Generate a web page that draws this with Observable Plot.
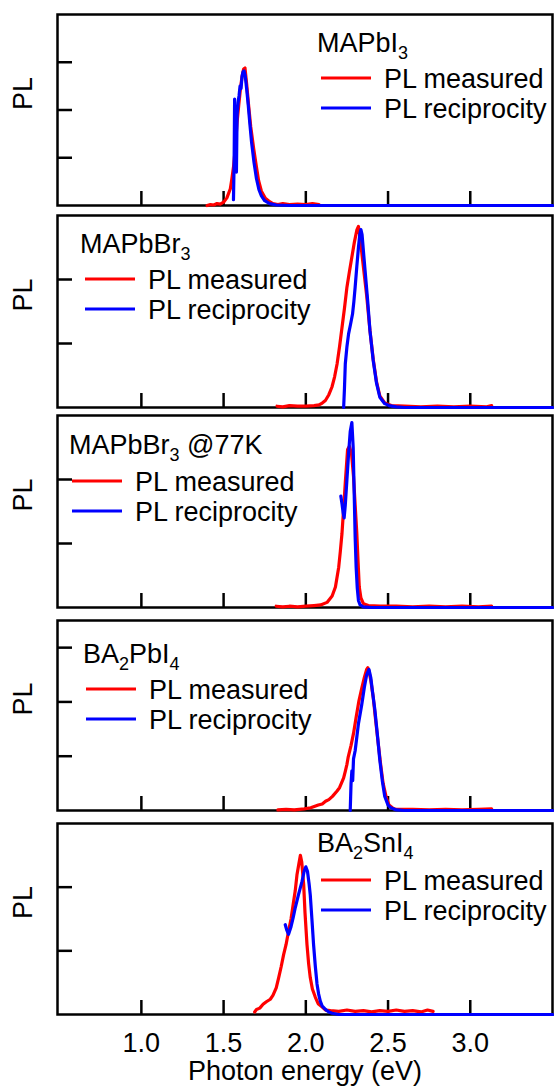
<!DOCTYPE html>
<html><head><meta charset="utf-8">
<script src="https://cdn.jsdelivr.net/npm/d3@7"></script>
<script src="https://cdn.jsdelivr.net/npm/@observablehq/plot@0.6"></script>
<style>
body{margin:0;background:#fff;}
#chart{width:554px;}
#chart svg{display:block;}
</style></head><body><div id="chart"></div>
<script>
// ---------------- DATA ----------------
const xTicks = [1.0, 1.5, 2.0, 2.5, 3.0];
const xDomain = [0.49, 3.5];
const xTitle = "Photon energy (eV)";
const yTitle = "PL";
const seriesLabels = ["PL measured", "PL reciprocity"];
const seriesColors = ["#ff0000", "#0000ff"];

const panelTitles = ["MAPbI_{3}", "MAPbBr_{3}", "MAPbBr_{3} @77K", "BA_{2}PbI_{4}", "BA_{2}SnI_{4}"];
const yDomains = [[0, 4], [0, 3], [0, 3], [0, 3.5], [0, 3]];
const yTicksList = [[1, 2, 3], [1, 2], [1, 2], [1, 2, 3], [1, 2]];

// [energy eV, PL (a.u.)]
const mapbi3Measured = [[1.40,0.0],[1.42,0.02],[1.44,0.01],[1.46,0.04],[1.48,0.03],[1.50,0.07],[1.52,0.16],[1.541,0.35],[1.55,0.55],[1.561,0.83],[1.572,1.25],[1.582,1.74],[1.592,2.1],[1.602,2.43],[1.612,2.7],[1.622,2.86],[1.63,2.88],[1.64,2.55],[1.652,2.1],[1.665,1.65],[1.683,1.19],[1.70,0.8],[1.713,0.52],[1.73,0.3],[1.754,0.15],[1.78,0.08],[1.80,0.04],[1.83,0.02],[1.86,0.04],[1.90,0.02],[1.95,0.03],[2.0,0.02],[2.04,0.04],[2.08,0.02]];
const mapbi3Reciprocity = [[1.560,0.12],[1.564,0.9],[1.567,2.23],[1.570,0.75],[1.574,1.6],[1.578,0.7],[1.582,1.9],[1.588,2.15],[1.594,2.3],[1.600,2.5],[1.606,2.45],[1.612,2.7],[1.618,2.8],[1.624,2.82],[1.632,2.7],[1.64,2.45],[1.65,2.1],[1.66,1.7],[1.67,1.33],[1.685,0.9],[1.70,0.56],[1.715,0.33],[1.73,0.2],[1.75,0.1],[1.78,0.04],[1.82,0.01],[1.9,0],[3.5,0]];

const mapbbr3Measured = [[1.825,0.02],[1.86,0.01],[1.90,0.03],[1.95,0.02],[2.0,0.02],[2.05,0.03],[2.08,0.04],[2.10,0.07],[2.119,0.11],[2.14,0.2],[2.159,0.32],[2.175,0.48],[2.19,0.68],[2.205,0.95],[2.22,1.25],[2.235,1.55],[2.25,1.88],[2.265,2.12],[2.28,2.35],[2.295,2.58],[2.31,2.77],[2.32,2.83],[2.33,2.65],[2.35,2.2],[2.37,1.75],[2.39,1.2],[2.41,0.75],[2.43,0.4],[2.45,0.18],[2.48,0.07],[2.52,0.03],[2.6,0.02],[2.7,0.01],[2.8,0.02],[2.9,0.01],[3.0,0.02],[3.1,0.01],[3.13,0.03]];
const mapbbr3Reciprocity = [[2.23,0],[2.235,0.3],[2.24,0.68],[2.25,0.95],[2.26,1.15],[2.272,1.3],[2.284,1.46],[2.292,1.65],[2.30,1.88],[2.31,2.2],[2.32,2.5],[2.328,2.7],[2.335,2.78],[2.342,2.7],[2.35,2.45],[2.36,2.15],[2.376,1.67],[2.39,1.2],[2.41,0.73],[2.43,0.38],[2.45,0.16],[2.48,0.06],[2.506,0.03],[2.55,0.01],[2.6,0],[3.5,0]];

const mapbbr3ColdMeasured = [[1.82,0.02],[1.86,0.01],[1.9,0.02],[1.95,0.01],[2.0,0.02],[2.05,0.03],[2.09,0.04],[2.129,0.08],[2.16,0.18],[2.18,0.32],[2.20,0.63],[2.21,0.88],[2.22,1.16],[2.23,1.55],[2.24,1.95],[2.254,2.47],[2.265,2.52],[2.278,2.4],[2.29,2.05],[2.30,1.6],[2.31,1.16],[2.318,0.7],[2.325,0.32],[2.335,0.15],[2.35,0.06],[2.38,0.03],[2.45,0.02],[2.55,0.02],[2.65,0.01],[2.75,0.02],[2.85,0.01],[2.95,0.02],[3.05,0.01],[3.13,0.02]];
const mapbbr3ColdReciprocity = [[2.213,1.74],[2.22,1.62],[2.227,1.48],[2.233,1.40],[2.24,1.6],[2.25,2.0],[2.26,2.4],[2.27,2.75],[2.28,2.89],[2.288,2.5],[2.295,1.68],[2.30,1.1],[2.306,0.63],[2.313,0.3],[2.32,0.11],[2.33,0.04],[2.35,0.01],[2.4,0],[3.5,0]];

const ba2pbi4Measured = [[1.83,0.01],[1.88,0.02],[1.93,0.01],[1.99,0.03],[2.03,0.05],[2.076,0.1],[2.10,0.12],[2.12,0.17],[2.14,0.2],[2.162,0.26],[2.19,0.36],[2.205,0.42],[2.216,0.5],[2.23,0.6],[2.24,0.72],[2.25,0.85],[2.258,0.99],[2.275,1.2],[2.29,1.42],[2.305,1.7],[2.323,2.02],[2.34,2.25],[2.356,2.45],[2.37,2.6],[2.377,2.63],[2.385,2.55],[2.395,2.4],[2.41,2.08],[2.425,1.65],[2.44,1.24],[2.455,0.85],[2.47,0.5],[2.49,0.23],[2.506,0.1],[2.53,0.04],[2.55,0.02],[2.65,0.02],[2.75,0.01],[2.85,0.02],[2.95,0.01],[3.05,0.02],[3.13,0.03]];
const ba2pbi4Reciprocity = [[2.27,0],[2.275,0.5],[2.28,0.73],[2.285,0.55],[2.29,0.95],[2.30,1.1],[2.31,1.35],[2.32,1.6],[2.34,1.95],[2.356,2.27],[2.37,2.5],[2.384,2.6],[2.395,2.45],[2.405,2.2],[2.42,1.85],[2.435,1.4],[2.45,0.93],[2.465,0.55],[2.48,0.26],[2.50,0.1],[2.517,0.05],[2.55,0.01],[2.6,0],[3.5,0]];

const ba2sni4Measured = [[1.689,0.04],[1.70,0.08],[1.72,0.1],[1.74,0.16],[1.76,0.2],[1.784,0.24],[1.80,0.3],[1.82,0.42],[1.835,0.58],[1.85,0.75],[1.865,0.94],[1.88,1.1],[1.895,1.31],[1.91,1.5],[1.926,1.78],[1.936,1.95],[1.946,2.19],[1.958,2.37],[1.967,2.5],[1.975,2.4],[1.987,2.04],[1.995,1.6],[2.007,1.1],[2.017,0.8],[2.027,0.58],[2.04,0.4],[2.058,0.27],[2.075,0.17],[2.098,0.12],[2.12,0.07],[2.15,0.06],[2.2,0.05],[2.25,0.07],[2.3,0.05],[2.35,0.06],[2.4,0.04],[2.45,0.06],[2.5,0.05],[2.55,0.07],[2.6,0.05],[2.65,0.06],[2.7,0.04],[2.74,0.07],[2.774,0.05]];
const ba2sni4Reciprocity = [[1.875,1.41],[1.885,1.32],[1.895,1.26],[1.91,1.38],[1.923,1.52],[1.936,1.68],[1.955,1.88],[1.977,2.09],[1.99,2.25],[2.0,2.32],[2.01,2.25],[2.02,2.05],[2.027,1.88],[2.037,1.5],[2.047,1.1],[2.058,0.75],[2.068,0.48],[2.078,0.32],[2.088,0.21],[2.1,0.13],[2.119,0.08],[2.14,0.04],[2.16,0.02],[2.2,0],[3.5,0]];

const measuredList = [mapbi3Measured, mapbbr3Measured, mapbbr3ColdMeasured, ba2pbi4Measured, ba2sni4Measured];
const reciprocityList = [mapbi3Reciprocity, mapbbr3Reciprocity, mapbbr3ColdReciprocity, ba2pbi4Reciprocity, ba2sni4Reciprocity];

// ---------------- LAYOUT ----------------
const FONT = "'Liberation Sans', Arial, Helvetica, sans-serif";
const FS = 27;
const W = 554, ML = 57, MR = 2;
const panelLayout = [
  {height: 210, mt: 14, mb: 5, tx: 260, ty: 38, lx: 264, ly: 64},
  {height: 201, mt: 5,  mb: 4, tx: 23,  ty: 38, lx: 28,  ly: 64},
  {height: 203, mt: 4,  mb: 7, tx: 12,  ty: 39, lx: 15,  ly: 66},
  {height: 202, mt: 6,  mb: 6, tx: 26,  ty: 43, lx: 29,  ly: 69},
  {height: 270, mt: 7,  mb: 72, tx: 260, ty: 29, lx: 264, ly: 57}
];

function appendRich(textSel, s) {
  const parts = s.split(/(_\{[^}]*\})/).filter(p => p.length);
  let shifted = false;
  for (const p of parts) {
    const m = p.match(/^_\{(.*)\}$/);
    if (m) {
      textSel.append("tspan").attr("dy", shifted ? 0 : 7).attr("font-size", 18).text(m[1]);
      shifted = true;
    } else {
      textSel.append("tspan").attr("dy", shifted ? -7 : 0).text(p);
      shifted = false;
    }
  }
}

function legendMark(title, lay) {
  return () => {
    const ml = ML, mt = lay.mt;
    const g = d3.create("svg:g").attr("font-family", FONT).attr("font-size", FS)
      .attr("fill", "black").attr("text-anchor", "start");
    const t = g.append("text").attr("x", ml + lay.tx).attr("y", mt + lay.ty);
    appendRich(t, title);
    seriesLabels.forEach((lab, i) => {
      const y = mt + lay.ly + i * 30;
      g.append("line").attr("x1", ml + lay.lx).attr("x2", ml + lay.lx + 50)
        .attr("y1", y).attr("y2", y).attr("stroke", seriesColors[i]).attr("stroke-width", 3);
      g.append("text").attr("x", ml + lay.lx + 63).attr("y", y + 9.5).text(lab);
    });
    return g.node();
  };
}

const chart = document.getElementById("chart");
panelTitles.forEach((title, i) => {
  const lay = panelLayout[i];
  const last = i === panelTitles.length - 1;
  const marks = [
    Plot.frame({stroke: "black", strokeWidth: 2.5}),
    Plot.axisX({ticks: xTicks, tickSize: -14, tickFormat: () => "", strokeWidth: 2.5, label: null}),
    Plot.axisY({ticks: yTicksList[i], tickSize: -15, tickFormat: () => "", strokeWidth: 2.5, label: null}),
    Plot.text([yTitle], {text: d => d, frameAnchor: "left", dx: -34, rotate: -90, fontSize: FS}),
    Plot.line(measuredList[i], {x: d => d[0], y: d => d[1], stroke: seriesColors[0], strokeWidth: 3.2}),
    Plot.line(reciprocityList[i], {x: d => d[0], y: d => d[1], stroke: seriesColors[1], strokeWidth: 3.2}),
    legendMark(title, lay)
  ];
  if (last) {
    marks.push(Plot.axisX({ticks: xTicks, tickSize: 0, tickPadding: 18, tickFormat: d3.format(".1f"), fontSize: FS, label: null}));
    marks.push(Plot.text([xTitle], {text: d => d, frameAnchor: "bottom", dy: 65, lineAnchor: "bottom", fontSize: FS}));
  }
  const p = Plot.plot({
    width: W,
    height: lay.height,
    marginLeft: ML, marginRight: MR, marginTop: lay.mt, marginBottom: lay.mb,
    style: {fontFamily: FONT, fontSize: FS + "px", background: "white", color: "black", overflow: "visible"},
    x: {domain: xDomain, label: null},
    y: {domain: yDomains[i], label: null},
    marks
  });
  chart.appendChild(p);
});
</script>
</body></html>
